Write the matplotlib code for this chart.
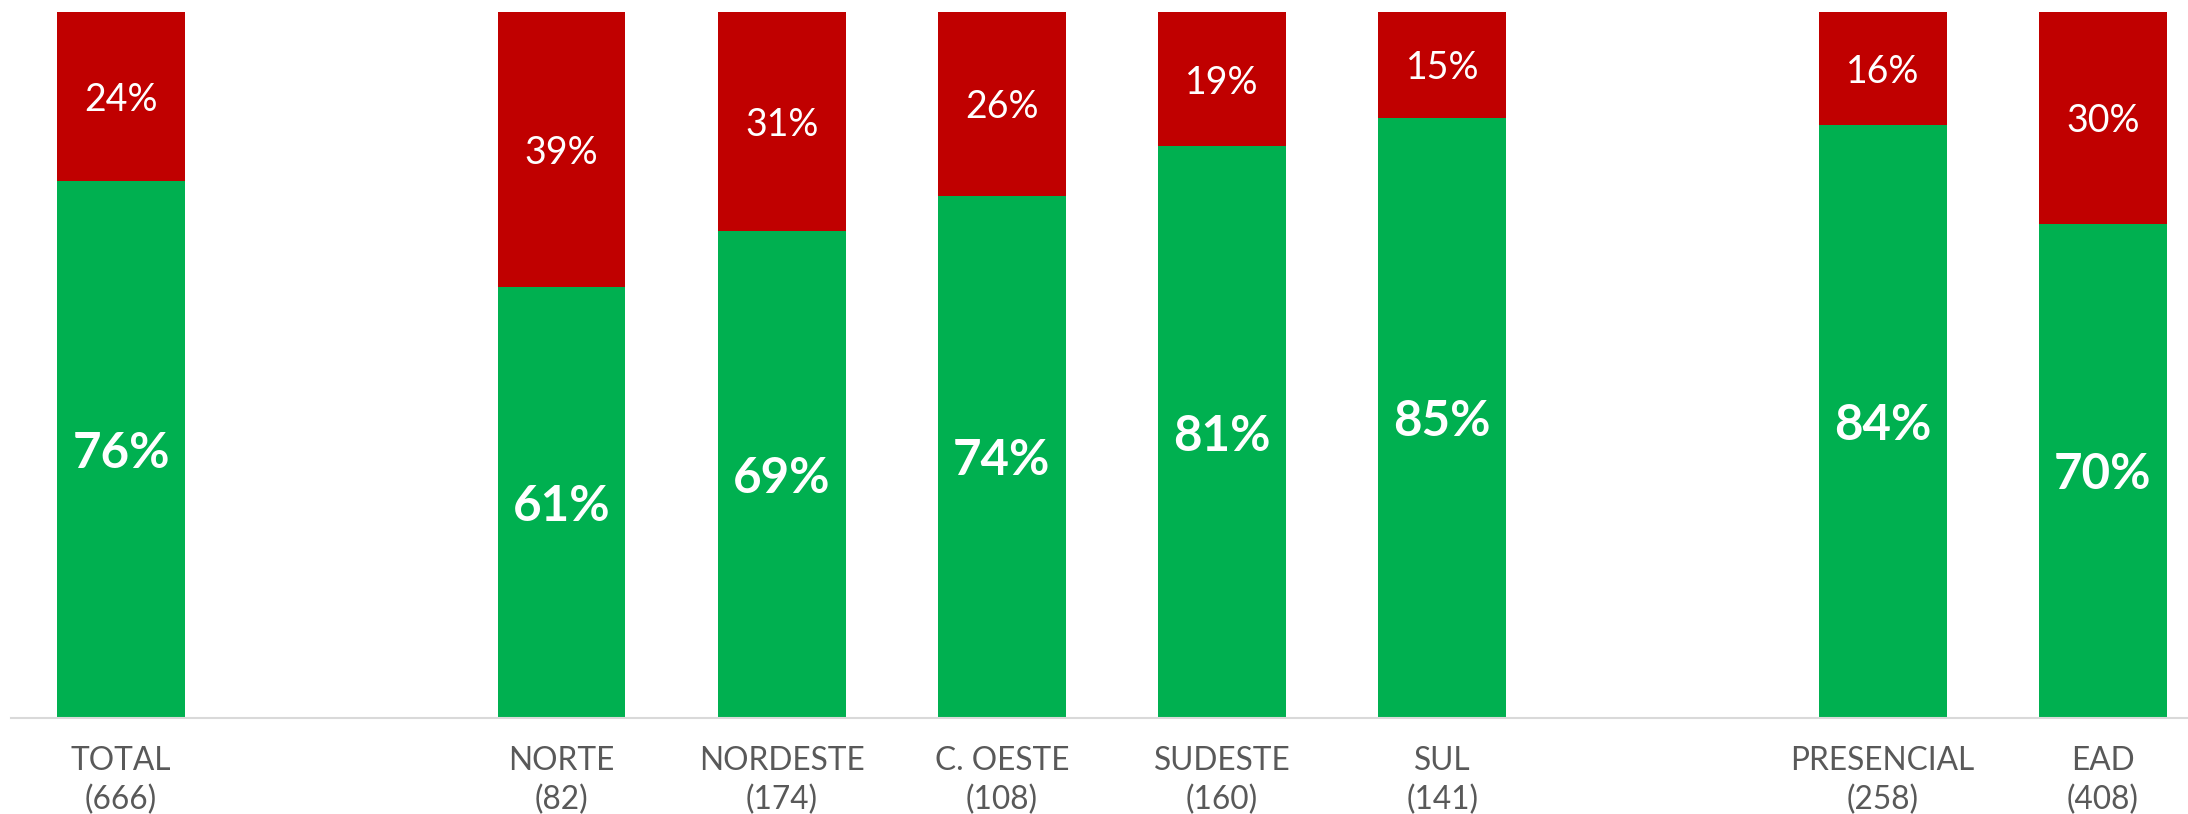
import matplotlib
matplotlib.use("Agg")
import matplotlib.pyplot as plt

plt.rcParams['font.family'] = ['Lato', 'DejaVu Sans']

categories = ["TOTAL", "NORTE", "NORDESTE", "C. OESTE", "SUDESTE", "SUL", "PRESENCIAL", "EAD"]
counts = ["666", "82", "174", "108", "160", "141", "258", "408"]
positions = [0, 2, 3, 4, 5, 6, 8, 9]
green_vals = [76, 61, 69, 74, 81, 85, 84, 70]
red_vals = [24, 39, 31, 26, 19, 15, 16, 30]

GREEN = "#00B050"
RED = "#C00000"

W, H = 2188, 814
fig = plt.figure(figsize=(W / 100, H / 100), dpi=100)
left_px, right_px, top_px, bottom_px = 11, 2188, 12, 718
ax = fig.add_axes([left_px / W, 1 - bottom_px / H, (right_px - left_px) / W, (bottom_px - top_px) / H])

bw = 0.58
ax.bar(positions, green_vals, width=bw, color=GREEN, edgecolor="none")
ax.bar(positions, red_vals, width=bw, bottom=green_vals, color=RED, edgecolor="none")

for x, g, r in zip(positions, green_vals, red_vals):
    ax.text(x, g / 2, f"{g}%", ha="center", va="center_baseline", color="white",
            fontsize=35.5, fontweight="bold")
    ax.text(x, g + r / 2, f"{r}%", ha="center", va="center_baseline", color="white",
            fontsize=27)

ax.set_xlim(-0.5, -0.5 + (right_px - left_px) / 220.2)
ax.set_ylim(0, 100)
ax.set_xticks(positions)
ax.set_xticklabels([f"{c}\n({n})" for c, n in zip(categories, counts)],
                   fontsize=22.8, color="#595959", linespacing=1.35)
ax.tick_params(axis="x", length=0, pad=20)
ax.set_yticks([])
for s in ["top", "right", "left"]:
    ax.spines[s].set_visible(False)
ax.spines["bottom"].set_color("#D9D9D9")
ax.spines["bottom"].set_linewidth(1.5)

fig.savefig("out.png", dpi=100)
